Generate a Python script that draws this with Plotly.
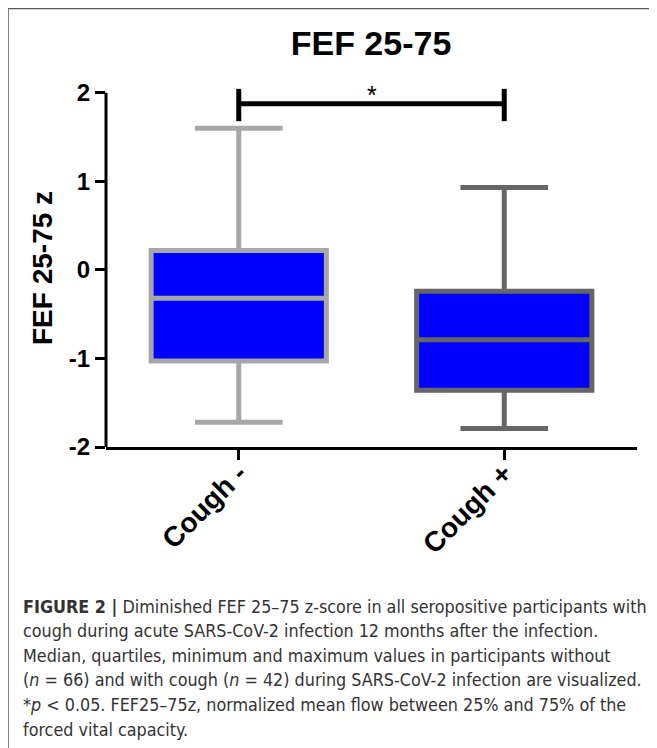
import plotly.graph_objects as go

# ---- data ----
categories = ["Cough -", "Cough +"]
q1 = [-1.03, -1.36]
median = [-0.32, -0.79]
q3 = [0.22, -0.24]
lower_whisker = [-1.72, -1.79]
upper_whisker = [1.60, 0.93]
line_colors = ["#a7a7aa", "#666666"]
y_ticks = [-2, -1, 0, 1, 2]
y_ticklabels = ["-2", "-1", "0", "1", "2"]

# significance bracket
sig_pair = [0, 1]
sig_level = 1.876
sig_tick_low = 1.68
sig_tick_high = 2.045
sig_label = "*"

caption_lines = [
    "<b>FIGURE 2 |</b> Diminished FEF 25–75 z-score in all seropositive participants with",
    "cough during acute SARS-CoV-2 infection 12 months after the infection.",
    "Median, quartiles, minimum and maximum values in participants without",
    "(<i>n</i> = 66) and with cough (<i>n</i> = 42) during SARS-CoV-2 infection are visualized.",
    "*<i>p</i> < 0.05. FEF25–75z, normalized mean flow between 25% and 75% of the",
    "forced vital capacity.",
]

# the page adds an 8px body margin; work in figure pixels
W, H = 649, 740
L, R, T, B = 98, 20, 76, 301
pw, ph = W - L - R, H - T - B


def px_x(x):
    return (x - L) / pw


def px_y(y):
    return (H - B - y) / ph


FONT = "Liberation Sans, Arial, sans-serif"
CAP_FONT = "DejaVu Sans Condensed, Liberation Sans Narrow, sans-serif"

fig = go.Figure()
for i, cat in enumerate(categories):
    fig.add_trace(go.Box(
        x=[i], q1=[q1[i]], median=[median[i]], q3=[q3[i]],
        lowerfence=[lower_whisker[i]], upperfence=[upper_whisker[i]],
        width=0.66, whiskerwidth=0.5,
        fillcolor="#0000ff",
        line=dict(color=line_colors[i], width=5),
        boxpoints=False, showlegend=False, name=cat,
    ))

shapes = []
shapes.append(dict(type="line", xref="x", yref="y", x0=sig_pair[0], x1=sig_pair[1],
                   y0=sig_level, y1=sig_level, line=dict(color="black", width=5)))
for xv in sig_pair:
    shapes.append(dict(type="line", xref="x", yref="y", x0=xv, x1=xv,
                       y0=sig_tick_low, y1=sig_tick_high, line=dict(color="black", width=5)))
# y axis line from -2 to 2
shapes.append(dict(type="line", xref="paper", yref="y", x0=0, x1=0,
                   y0=y_ticks[0], y1=y_ticks[-1], line=dict(color="black", width=3)))
# outer frame (top and left edges)
shapes.append(dict(type="line", xref="paper", yref="paper",
                   x0=px_x(0), x1=px_x(W + 5), y0=px_y(0.5), y1=px_y(0.5),
                   line=dict(color="#5a5a5a", width=1.5)))
shapes.append(dict(type="line", xref="paper", yref="paper",
                   x0=px_x(0), x1=px_x(0), y0=px_y(0.5), y1=px_y(H + 5),
                   line=dict(color="#5a5a5a", width=1.5)))

annotations = []
annotations.append(dict(x=0.5, y=sig_level, xref="x", yref="y", text=sig_label,
                        showarrow=False, yanchor="bottom", yshift=-7,
                        font=dict(family=FONT, size=25, color="black")))
annotations.append(dict(x=px_x(34), y=px_y(260), xref="paper", yref="paper",
                        text="FEF 25-75 z", textangle=-90, showarrow=False,
                        xanchor="center", yanchor="middle",
                        font=dict(family=FONT, size=28, color="black", weight="bold")))
cap_y0 = 598
cap_dy = 24.6
for k, line in enumerate(caption_lines):
    annotations.append(dict(x=px_x(13), y=px_y(cap_y0 + k * cap_dy), xref="paper", yref="paper",
                            text=line, showarrow=False, xanchor="left", yanchor="middle",
                            font=dict(family=CAP_FONT, size=17.8, color="#333333")))

fig.update_layout(
    width=W, height=H,
    margin=dict(l=L, r=R, t=T, b=B, pad=0),
    paper_bgcolor="white", plot_bgcolor="white",
    title=dict(text="FEF 25-75", x=363 / W, xref="container", xanchor="center",
               y=1 - 35 / H, yref="container", yanchor="middle",
               font=dict(family=FONT, size=34, color="black", weight="bold")),
    xaxis=dict(range=[-0.5, 1.5], tickmode="array", tickvals=list(range(len(categories))),
               ticktext=categories, tickangle=-45, ticks="outside", ticklen=10, tickwidth=3,
               tickcolor="black", showline=True, linecolor="black", linewidth=3,
               showgrid=False, zeroline=False, ticklabelstandoff=-14,
               tickfont=dict(family=FONT, size=28, color="black", weight="bold")),
    yaxis=dict(range=[-2, 2.1], tickmode="array", tickvals=y_ticks, ticktext=y_ticklabels,
               ticks="outside", ticklen=10, tickwidth=3, tickcolor="black",
               showline=False, showgrid=False, zeroline=False,
               tickfont=dict(family=FONT, size=24, color="black", weight="bold")),
    shapes=shapes, annotations=annotations,
)

fig.write_html("out.html")
